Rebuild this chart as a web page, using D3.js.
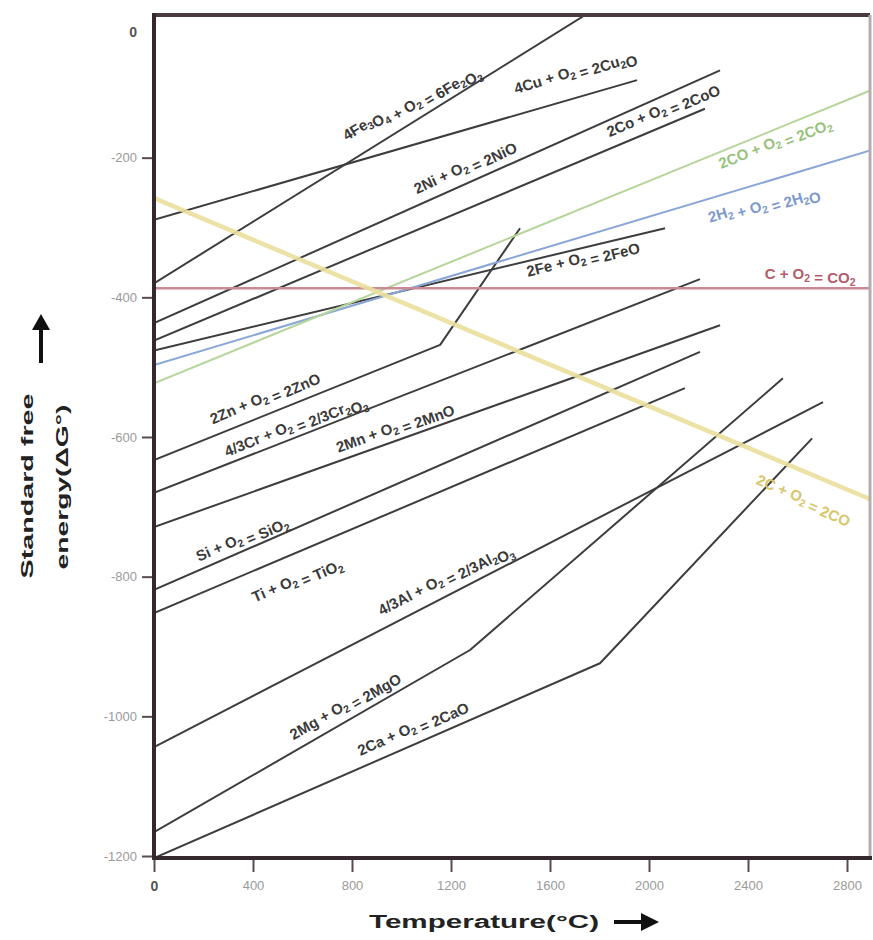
<!DOCTYPE html>
<html><head><meta charset="utf-8">
<script src="https://cdn.jsdelivr.net/npm/d3@7"></script>
<style>body{margin:0;background:#fff}svg{display:block}</style>
</head><body><svg id="c" width="873" height="940"></svg>
<script>
// ---------------- data ----------------
const xTicks = [0, 400, 800, 1200, 1600, 2000, 2400, 2800];
const yTicks = [0, -200, -400, -600, -800, -1000, -1200];
const reactions = [
  "4Fe3O4 + O2 = 6Fe2O3", "4Cu + O2 = 2Cu2O", "2Ni + O2 = 2NiO", "2Co + O2 = 2CoO",
  "2Fe + O2 = 2FeO", "2H2 + O2 = 2H2O", "2CO + O2 = 2CO2", "C + O2 = CO2",
  "2C + O2 = 2CO", "2Zn + O2 = 2ZnO", "4/3Cr + O2 = 2/3Cr2O3", "2Mn + O2 = 2MnO",
  "Si + O2 = SiO2", "Ti + O2 = TiO2", "4/3Al + O2 = 2/3Al2O3", "2Mg + O2 = 2MgO", "2Ca + O2 = 2CaO"
];
// temperature (°C) points of each line
const lineTemps = [
  [0, 1741], [0, 1952], [0, 2287], [0, 2226], [0, 2065], [0, 2900], [0, 2900], [0, 2900],
  [0, 2900], [0, 1156, 1479], [0, 2206], [0, 2287], [0, 2206], [0, 2145], [0, 2703],
  [0, 1277, 2541], [0, 1802, 2659]
];
// standard free energy (kJ) at those points
const lineEnergies = [
  [-380, 4], [-289, -89], [-437, -75], [-462, -130], [-476, -301], [-497, -189], [-523, -103], [-387, -387],
  [-258, -690], [-633, -468, -301], [-680, -374], [-729, -440], [-819, -478], [-852, -530], [-1044, -550],
  [-1166, -905, -516], [-1203, -924, -602]
];
// label anchor (temperature, energy) and angle for each reaction
const labelTemps    = [1030, 1701, 1257, 2057, 1733, 2461, 2509, 2651, 2625, 448, 570, 974, 356, 578, 1176, 772, 1046];
const labelEnergies = [-116, -77, -214, -132, -345, -264, -179, -368, -690, -544, -583, -587, -746, -805, -803, -985, -1017];
const labelAngles   = [-31, -17, -25, -23, -14, -17, -22, 0, 23, -23, -22, -20, -23, -23, -27, -30, -24];

// ---------------- styles ----------------
const special = {
  "2H2 + O2 = 2H2O": {stroke: "#8aa6d6", width: 2, text: "#7d98cc", op: 1},
  "2CO + O2 = 2CO2": {stroke: "#b5d59a", width: 2, text: "#95c27a", op: 1},
  "C + O2 = CO2":    {stroke: "#c98a94", width: 2.5, text: "#b35d6b", op: 1},
  "2C + O2 = 2CO":   {stroke: "#eadf9c", width: 4.5, text: "#d9c56a", op: 0.9}
};
const defStyle = {stroke: "#3d3d3d", width: 2, text: "#3a3a3a", op: 1};

const svg = d3.select("#c");
const L = 154, R = 870, T = 15, B = 858;
const x = d3.scaleLinear().domain([0, 2800]).range([154, 847]);
const y = d3.scaleLinear().domain([0, -1200]).range([18, 856]);

svg.append("defs").append("clipPath").attr("id", "clip")
  .append("rect").attr("x", L).attr("y", T).attr("width", R - L).attr("height", B - T);

const plot = svg.append("g").attr("clip-path", "url(#clip)");
const line = d3.line().x(d => x(d[0])).y(d => y(d[1]));

const order = reactions.map((r, i) => i).sort((a, b) => (special[reactions[a]] ? 1 : 0) - (special[reactions[b]] ? 1 : 0));
order.forEach(i => {
  const st = special[reactions[i]] || defStyle;
  const pts = lineTemps[i].map((t, k) => [t, lineEnergies[i][k]]);
  plot.append("path").attr("d", line(pts)).attr("fill", "none")
    .attr("stroke", st.stroke).attr("stroke-width", st.width).attr("stroke-opacity", st.op)
    .attr("stroke-linejoin", "round");
});

function addFormula(sel, s) {
  let prev = "";
  for (const ch of s) {
    const sub = /\d/.test(ch) && /[A-Za-z]/.test(prev);
    if (sub) {
      sel.append("tspan").attr("font-size", "10.5px").attr("dy", 4).text(ch);
      sel.append("tspan").attr("dy", -4).text("");
    } else {
      sel.append("tspan").text(ch);
    }
    if (!sub) prev = ch;
  }
}
reactions.forEach((r, i) => {
  const st = special[r] || defStyle;
  const t = svg.append("text")
    .attr("transform", `translate(${x(labelTemps[i])},${y(labelEnergies[i])}) rotate(${labelAngles[i]})`)
    .attr("text-anchor", "middle").attr("dominant-baseline", "middle")
    .attr("font-family", "Liberation Sans, Arial, sans-serif").attr("font-size", "15px")
    .attr("font-weight", "bold").attr("fill", st.text);
  addFormula(t, r);
});

// axes
const yAxis = svg.append("g").attr("transform", `translate(${L},0)`)
  .call(d3.axisLeft(y).tickValues(yTicks).tickSize(12).tickPadding(5).tickFormat(d => String(d)));
const xAxis = svg.append("g").attr("transform", `translate(0,${B})`)
  .call(d3.axisBottom(x).tickValues(xTicks).tickSize(14).tickPadding(9).tickFormat(d => String(d)));
[yAxis, xAxis].forEach(g => {
  g.select(".domain").remove();
  g.selectAll(".tick line").attr("stroke", "#5a4a52").attr("stroke-width", 2);
  g.selectAll(".tick text").attr("fill", "#9a9a9a").attr("font-size", "13px")
    .attr("font-family", "Liberation Sans, Arial, sans-serif");
});
yAxis.selectAll(".tick").filter(d => d === 0).select("line").remove();
yAxis.selectAll(".tick").filter(d => d === 0).select("text")
  .attr("dy", "1.3em").attr("fill", "#555").attr("font-weight", "bold").attr("font-size", "14px");
xAxis.selectAll(".tick").filter(d => d === 0).select("text").attr("fill", "#555").attr("font-weight", "bold").attr("font-size", "14px");

// frame
svg.append("line").attr("x1", L).attr("x2", R).attr("y1", T).attr("y2", T).attr("stroke", "#4a3a42").attr("stroke-width", 4);
svg.append("line").attr("x1", R).attr("x2", R).attr("y1", T).attr("y2", B).attr("stroke", "#b9aab2").attr("stroke-width", 3);
svg.append("line").attr("x1", L).attr("x2", L).attr("y1", T - 2).attr("y2", B + 2).attr("stroke", "#35282f").attr("stroke-width", 4);
svg.append("line").attr("x1", L - 2).attr("x2", R + 2).attr("y1", B).attr("y2", B).attr("stroke", "#35282f").attr("stroke-width", 4);

// axis titles
svg.append("text").attr("transform", "translate(29,486) rotate(-90)").attr("text-anchor", "middle")
  .attr("dominant-baseline", "middle").attr("font-family", "Liberation Sans, Arial, sans-serif")
  .attr("font-size", "17px").attr("font-weight", "bold").attr("fill", "#222")
  .attr("textLength", 185).attr("lengthAdjust", "spacingAndGlyphs").text("Standard free");
svg.append("text").attr("transform", "translate(64,487) rotate(-90)").attr("text-anchor", "middle")
  .attr("dominant-baseline", "middle").attr("font-family", "Liberation Sans, Arial, sans-serif")
  .attr("font-size", "16px").attr("font-weight", "bold").attr("fill", "#222")
  .attr("textLength", 165).attr("lengthAdjust", "spacingAndGlyphs").text("energy(ΔG°)");
svg.append("line").attr("x1", 41).attr("x2", 41).attr("y1", 363).attr("y2", 326).attr("stroke", "#111").attr("stroke-width", 4);
svg.append("path").attr("d", "M32,330 L41,314 L50,330 Z").attr("fill", "#111");

svg.append("text").attr("x", 484).attr("y", 923).attr("text-anchor", "middle")
  .attr("dominant-baseline", "middle").attr("font-family", "Liberation Sans, Arial, sans-serif")
  .attr("font-size", "18px").attr("font-weight", "bold").attr("fill", "#222")
  .attr("textLength", 230).attr("lengthAdjust", "spacingAndGlyphs").text("Temperature(°C)");
svg.append("line").attr("x1", 614).attr("x2", 645).attr("y1", 922).attr("y2", 922).attr("stroke", "#111").attr("stroke-width", 4);
svg.append("path").attr("d", "M641,913 L659,922 L641,931 Z").attr("fill", "#111");
</script></body></html>
